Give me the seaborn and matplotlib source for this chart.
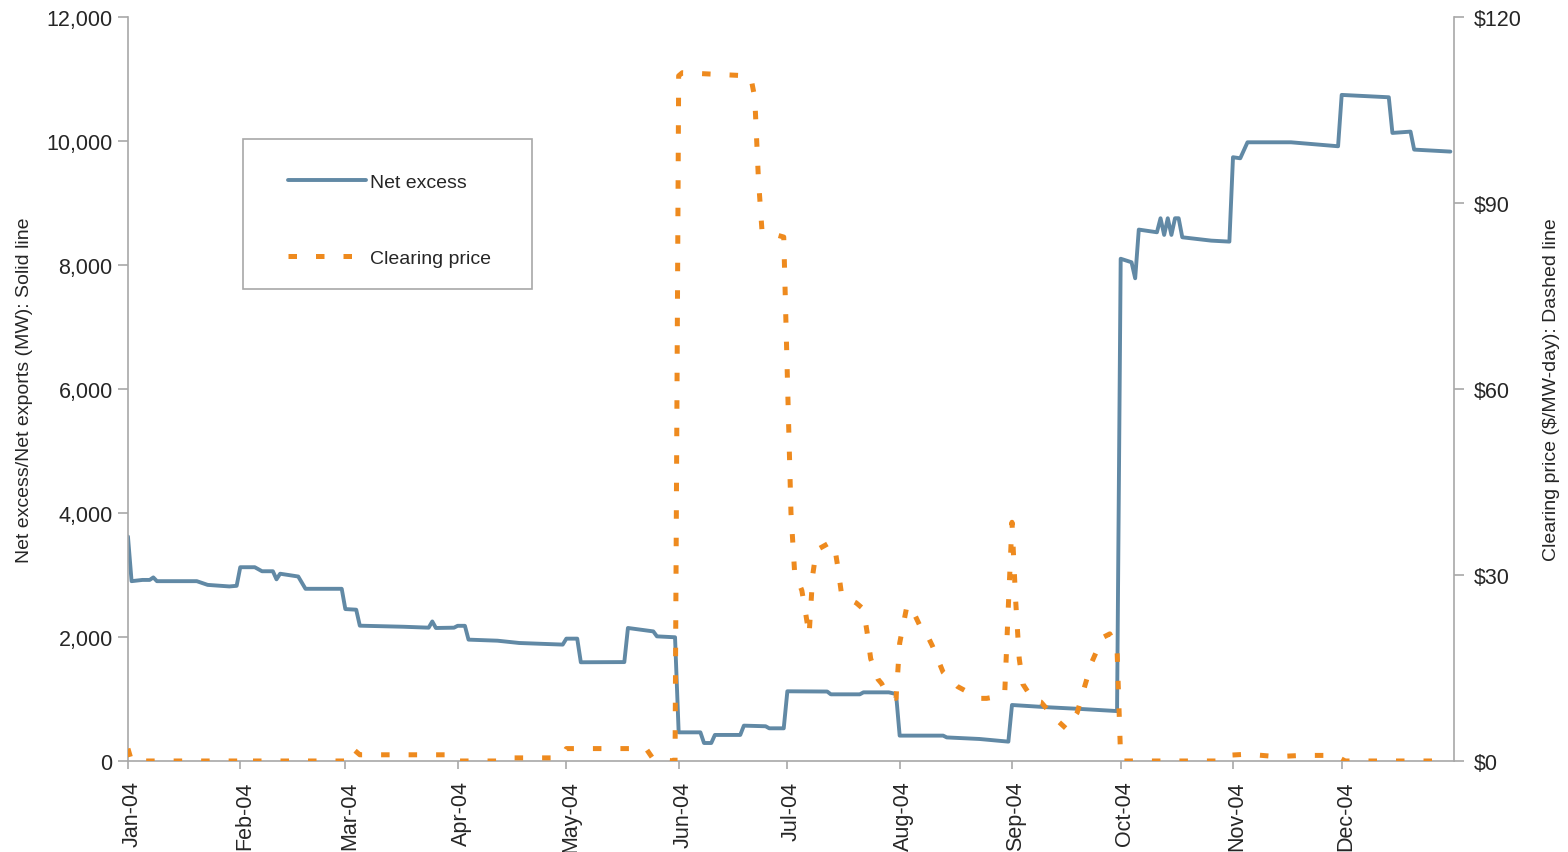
import pandas as pd
import seaborn as sns
import numpy as np
import matplotlib.pyplot as plt
import matplotlib.dates as mdates
import matplotlib.ticker as mticker
from matplotlib.patches import Rectangle
from matplotlib.transforms import ScaledTranslation

# Net excess / net exports (MW), solid line, left axis
net_dates = ['2004-01-01', '2004-01-02', '2004-01-05', '2004-01-07', '2004-01-08', '2004-01-09',
             '2004-01-20', '2004-01-23', '2004-01-29', '2004-01-31', '2004-02-01', '2004-02-05',
             '2004-02-07', '2004-02-10', '2004-02-11', '2004-02-12', '2004-02-17', '2004-02-19',
             '2004-02-29', '2004-03-01', '2004-03-04', '2004-03-05', '2004-03-17', '2004-03-24',
             '2004-03-25', '2004-03-26', '2004-03-31', '2004-04-01', '2004-04-03', '2004-04-04',
             '2004-04-12', '2004-04-18', '2004-04-30', '2004-05-01', '2004-05-04', '2004-05-05',
             '2004-05-17', '2004-05-18', '2004-05-25', '2004-05-26', '2004-05-31', '2004-06-01',
             '2004-06-07', '2004-06-08', '2004-06-10', '2004-06-11', '2004-06-18', '2004-06-19',
             '2004-06-25', '2004-06-26', '2004-06-30', '2004-07-01', '2004-07-12', '2004-07-13',
             '2004-07-21', '2004-07-22', '2004-07-29', '2004-07-31', '2004-08-01', '2004-08-13',
             '2004-08-14', '2004-08-23', '2004-08-31', '2004-09-01', '2004-09-11', '2004-09-20',
             '2004-09-30', '2004-10-01', '2004-10-04', '2004-10-05', '2004-10-06', '2004-10-11',
             '2004-10-12', '2004-10-13', '2004-10-14', '2004-10-15', '2004-10-16', '2004-10-17',
             '2004-10-18', '2004-10-26', '2004-10-31', '2004-11-01', '2004-11-03', '2004-11-05',
             '2004-11-17', '2004-11-30', '2004-12-01', '2004-12-14', '2004-12-15', '2004-12-20',
             '2004-12-21', '2004-12-31']
net_mw = [3620, 2900, 2920, 2920, 2960, 2900,
          2900, 2840, 2815, 2825, 3125, 3125,
          3060, 3060, 2930, 3020, 2975, 2777,
          2777, 2450, 2440, 2182, 2165, 2150,
          2250, 2145, 2150, 2180, 2180, 1957,
          1940, 1903, 1877, 1973, 1973, 1592,
          1595, 2145, 2090, 2010, 1995, 462,
          462, 290, 290, 420, 420, 570,
          560, 527, 527, 1124, 1120, 1075,
          1075, 1107, 1107, 1080, 409, 409,
          380, 355, 312, 903, 866, 839,
          805, 8100, 8043, 7785, 8570, 8527,
          8753, 8484, 8753, 8484, 8753, 8753,
          8446, 8392, 8376, 9737, 9720, 9978,
          9978, 9914, 10742, 10704, 10129, 10150,
          9860, 9828]

# Clearing price ($/MW-day), dashed line, right axis
price_dates = ['2004-01-01', '2004-01-02', '2004-02-02', '2004-02-03', '2004-02-04', '2004-03-01',
               '2004-03-03', '2004-03-05', '2004-03-31', '2004-04-01', '2004-04-12', '2004-04-15',
               '2004-04-28', '2004-04-30', '2004-05-01', '2004-05-23', '2004-05-25', '2004-05-31',
               '2004-06-01', '2004-06-02', '2004-06-20', '2004-06-21', '2004-06-22', '2004-06-23',
               '2004-06-24', '2004-06-30', '2004-07-01', '2004-07-02', '2004-07-03', '2004-07-05',
               '2004-07-06', '2004-07-07', '2004-07-08', '2004-07-09', '2004-07-13', '2004-07-14',
               '2004-07-15', '2004-07-16', '2004-07-20', '2004-07-22', '2004-07-23', '2004-07-24',
               '2004-07-26', '2004-07-27', '2004-07-29', '2004-07-31', '2004-08-01', '2004-08-03',
               '2004-08-04', '2004-08-07', '2004-08-08', '2004-08-10', '2004-08-13', '2004-08-17',
               '2004-08-23', '2004-08-25', '2004-08-29', '2004-08-30', '2004-08-31', '2004-09-01',
               '2004-09-02', '2004-09-03', '2004-09-04', '2004-09-07', '2004-09-09', '2004-09-13',
               '2004-09-16', '2004-09-19', '2004-09-21', '2004-09-23', '2004-09-26', '2004-09-28',
               '2004-09-30', '2004-10-01', '2004-10-02', '2004-10-28', '2004-10-30', '2004-11-05',
               '2004-11-13', '2004-11-20', '2004-11-29', '2004-12-02', '2004-12-31']
price_usd = [2.0, 0, 0, 0.6, 0, 0,
             2.0, 1.0, 1.0, 0, 0, 0.5,
             0.5, 1.0, 2.0, 2.0, 0.3, 0,
             110.5, 111, 110.5, 110, 107, 94,
             85.5, 84.5, 62, 40, 30.5, 27.5,
             24, 20.3, 30, 34, 35.3, 34.7,
             31, 26.7, 25.5, 24.5, 20.8, 16.5,
             13.2, 12.5, 10.3, 10.1, 19, 25,
             25, 21.3, 21, 18.6, 14.3, 12,
             10.1, 10.1, 10.5, 11, 25, 38.5,
             26, 16.5, 12.4, 9.7, 9.5, 6.8,
             5.2, 7.8, 11.9, 15.9, 19.9, 20.5,
             18, 0.3, 0, 0, 0.9, 1.1,
             0.7, 0.9, 0.9, 0, 0]

month_ticks = pd.date_range('2004-01-01', '2004-12-01', freq='MS')

net_df = pd.DataFrame({'Date': pd.to_datetime(net_dates), 'NetExcess': net_mw})
price_df = pd.DataFrame({'Date': pd.to_datetime(price_dates), 'Price': price_usd})

sns.set_style("ticks")
plt.rcParams['font.family'] = ['Liberation Sans', 'DejaVu Sans']

blue = '#6189a5'
orange = '#ee8a1e'
grey = '#a8a8a8'

fig, ax = plt.subplots(figsize=(15.68, 8.53), dpi=100)
fig.subplots_adjust(left=0.0816, right=0.9273, top=0.979, bottom=0.1067)
ax2 = ax.twinx()

sns.lineplot(data=net_df, x='Date', y='NetExcess', ax=ax, color=blue, linewidth=2.8,
             label='Net excess', legend=False)
sns.lineplot(data=price_df, x='Date', y='Price', ax=ax2, color=orange, linewidth=3.6,
             linestyle=(0, (1.7, 3.8)), dash_capstyle='butt', label='Clearing price', legend=False)

ax.set_xlim(pd.Timestamp('2004-01-01'), pd.Timestamp('2005-01-01'))
ax.set_ylim(0, 12000)
ax2.set_ylim(0, 120)
ax.set_yticks(np.arange(0, 12001, 2000))
ax2.set_yticks(np.arange(0, 121, 30))
ax.yaxis.set_major_formatter(mticker.StrMethodFormatter('{x:,.0f}'))
ax2.yaxis.set_major_formatter(mticker.StrMethodFormatter('${x:,.0f}'))
ax.set_xticks(month_ticks)
ax.xaxis.set_major_formatter(mdates.DateFormatter('%b-%y'))

# spines / ticks
for a in (ax, ax2):
    for s in a.spines.values():
        s.set_color(grey)
        s.set_linewidth(1.2)
    a.spines['top'].set_visible(False)
ax.spines['right'].set_visible(False)
ax2.spines['left'].set_visible(False)
ax2.spines['bottom'].set_visible(False)

ax.tick_params(axis='y', direction='out', length=7, width=1.2, color=grey, pad=4, labelsize=15.5)
ax2.tick_params(axis='y', direction='out', length=7, width=1.2, color=grey, pad=7, labelsize=15.5)
ax.tick_params(axis='x', direction='out', length=6, width=1.2, color=grey, pad=8, labelsize=15.5,
               labelrotation=90)
for lbl in ax.get_xticklabels():
    lbl.set_transform(lbl.get_transform() + ScaledTranslation(4 / 100, 0, fig.dpi_scale_trans))

ax.set_xlabel('')
ax.set_ylabel('Net excess/Net exports (MW): Solid line', fontsize=14)
ax2.set_ylabel('Clearing price ($/MW-day): Dashed line', fontsize=14)
ax.yaxis.set_label_coords(-0.0717, 0.5)
ax2.yaxis.set_label_coords(1.0672, 0.5)

# legend, with its box drawn separately (wider side padding than top/bottom)
handles = ax.get_lines()[:1] + ax2.get_lines()[:1]
leg = fig.legend(handles, ['Net excess', 'Clearing price'], loc='upper left',
                 bbox_to_anchor=(288 / 1568, 1 - 174 / 853), fontsize=14, frameon=False,
                 borderpad=0, labelspacing=3.0, handlelength=4.0, handletextpad=0.2,
                 borderaxespad=0)
fig.patches.append(Rectangle((243 / 1568, 1 - 290 / 853), 289 / 1568, 150 / 853,
                             transform=fig.transFigure, fill=True, facecolor='white',
                             edgecolor=grey, linewidth=1.2, zorder=2))
leg.set_zorder(3)

fig.savefig('out.png', dpi=100)
